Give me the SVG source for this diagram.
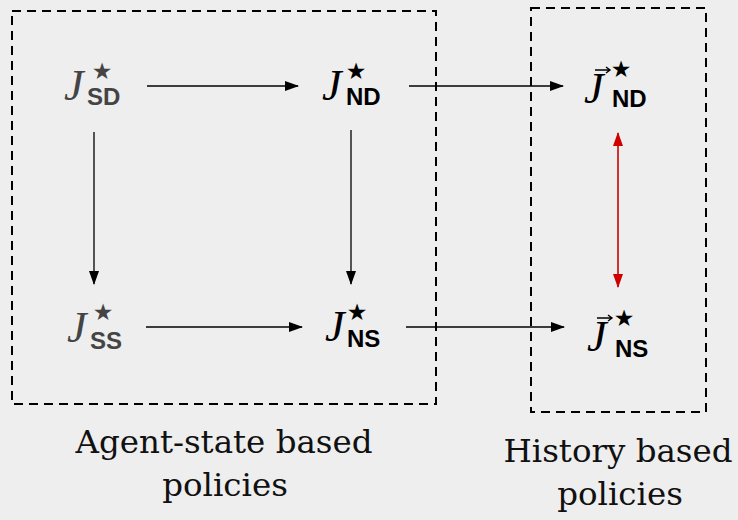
<svg xmlns="http://www.w3.org/2000/svg" width="738" height="520" viewBox="0 0 738 520">
  <style>
    .frame { fill: none; stroke: #000; stroke-width: 2; stroke-dasharray: 9 6; }
    .edge { stroke: #000; stroke-width: 1.3; fill: none; marker-end: url(#head); }
    .edge-red { stroke: #d00000; stroke-width: 1.6; fill: none; marker-start: url(#headRedStart); marker-end: url(#headRed); }
    .sym { font-family: "Liberation Serif", "DejaVu Serif", serif; font-style: italic; font-size: 44px; }
    .sub { font-family: "Liberation Sans", "DejaVu Sans", sans-serif; font-weight: bold; font-size: 24px; }
    .star { font-family: "DejaVu Sans", sans-serif; font-size: 23px; text-anchor: middle; }
    .vec { stroke: #000; stroke-width: 1.4; fill: none; }
    .muted { fill: #444; }
    .dark { fill: #000; }
    .caption { font-family: "DejaVu Serif", "Liberation Serif", serif; font-size: 32.5px; fill: #111; text-anchor: middle; }
  </style>
  <defs>
    <marker id="head" viewBox="0 0 14 10" refX="13" refY="5" markerWidth="14" markerHeight="10" markerUnits="userSpaceOnUse" orient="auto">
      <path d="M0,0 L14,5 L0,10 Z" fill="#000"/>
    </marker>
    <marker id="headRed" viewBox="0 0 14 10" refX="13" refY="5" markerWidth="14" markerHeight="10" markerUnits="userSpaceOnUse" orient="auto">
      <path d="M0,0 L14,5 L0,10 Z" fill="#d00000"/>
    </marker>
    <marker id="headRedStart" viewBox="0 0 14 10" refX="1" refY="5" markerWidth="14" markerHeight="10" markerUnits="userSpaceOnUse" orient="auto">
      <path d="M14,0 L0,5 L14,10 Z" fill="#d00000"/>
    </marker>
  </defs>

  <rect width="738" height="520" fill="#eeeeee"/>

  <!-- grouping frames with their captions -->
  <g id="agent-state-frame">
    <rect class="frame" x="12" y="11" width="424" height="393"/>
    <text class="caption" x="224" y="453">Agent-state based</text>
    <text class="caption" x="225" y="496">policies</text>
  </g>
  <g id="history-frame">
    <rect class="frame" x="531" y="8" width="175" height="404"/>
    <text class="caption" x="618" y="462">History based</text>
    <text class="caption" x="620" y="505">policies</text>
  </g>

  <!-- nodes -->
  <g id="J-SD">
    <text class="sym muted" x="64" y="100">J</text>
    <text class="star muted" x="102" y="79">★</text>
    <text class="sub muted" x="87" y="105">SD</text>
  </g>
  <g id="J-ND">
    <text class="sym dark" x="322" y="100">J</text>
    <text class="star dark" x="356" y="79">★</text>
    <text class="sub dark" x="346" y="105">ND</text>
  </g>
  <g id="J-SS">
    <text class="sym muted" x="67" y="342">J</text>
    <text class="star muted" x="103" y="320">★</text>
    <text class="sub muted" x="90" y="349">SS</text>
  </g>
  <g id="J-NS">
    <text class="sym dark" x="325" y="341">J</text>
    <text class="star dark" x="357" y="320">★</text>
    <text class="sub dark" x="347" y="347">NS</text>
  </g>
  <g id="vecJ-ND">
    <text class="sym dark" x="584" y="103">J</text>
    <path class="vec" d="M595,70 L610,70 M606,67 L610,70 L606,73"/>
    <text class="star dark" x="621" y="77">★</text>
    <text class="sub dark" x="612" y="107">ND</text>
  </g>
  <g id="vecJ-NS">
    <text class="sym dark" x="587" y="351">J</text>
    <path class="vec" d="M597,318 L612,318 M608,315 L612,318 L608,321"/>
    <text class="star dark" x="624" y="326">★</text>
    <text class="sub dark" x="615" y="357">NS</text>
  </g>

  <!-- connectors -->
  <g id="connectors">
    <line class="edge" x1="147" y1="86" x2="298" y2="86"/>
    <line class="edge" x1="409" y1="86" x2="563" y2="86"/>
    <line class="edge" x1="94" y1="132" x2="94" y2="284"/>
    <line class="edge" x1="351" y1="130" x2="351" y2="284"/>
    <line class="edge" x1="146" y1="327" x2="302" y2="327"/>
    <line class="edge" x1="406" y1="327" x2="564" y2="327"/>
    <line class="edge-red" x1="618" y1="133" x2="618" y2="287"/>
  </g>
</svg>
